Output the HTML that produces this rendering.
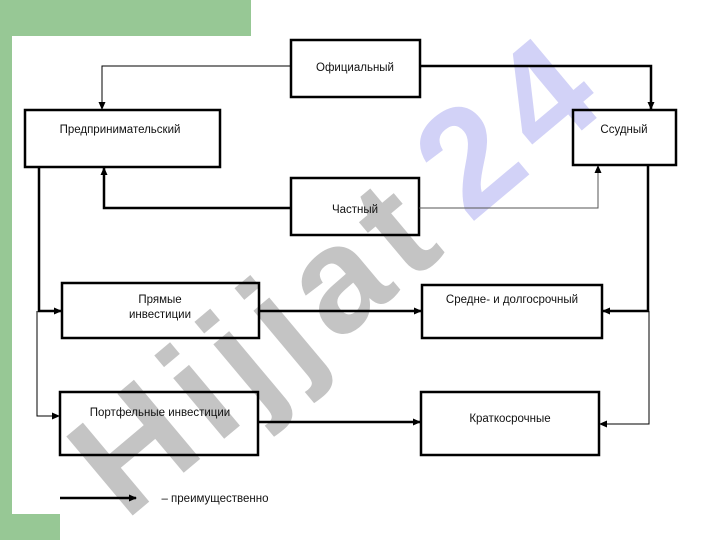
<!DOCTYPE html>
<html><head><meta charset="utf-8"><style>
html,body{margin:0;padding:0;background:#fff;}
svg{display:block;}
text{font-family:"Liberation Sans",sans-serif;}
</style></head><body>
<svg width="720" height="540" viewBox="0 0 720 540" xmlns="http://www.w3.org/2000/svg">
<defs>
<marker id="a" markerWidth="8" markerHeight="8" refX="7" refY="4" orient="auto" markerUnits="userSpaceOnUse"><path d="M0,0.5 L8,4 L0,7.5 z" fill="#000"/></marker>
</defs>
<rect x="0" y="0" width="720" height="540" fill="#fff"/>
<rect x="0" y="0" width="251" height="36" fill="#97c895"/>
<rect x="0" y="0" width="12" height="540" fill="#97c895"/>
<rect x="0" y="514" width="60" height="26" fill="#97c895"/>
<g transform="translate(125,522) rotate(-40)" font-weight="bold" font-size="150">
<text x="0" y="0" textLength="420" lengthAdjust="spacing" fill="#c4c4c4">Hijjat</text>
</g>
<g transform="translate(133,507) rotate(-40)" font-weight="bold" font-size="150">
<text x="440" y="0" textLength="180" lengthAdjust="spacing" fill="#d2d2f7">24</text>
</g>
<g fill="none" stroke="#000">
<rect x="291" y="40" width="129" height="57" stroke-width="2.5"/>
<rect x="25" y="110" width="195" height="57" stroke-width="2.5"/>
<rect x="573" y="110" width="103" height="55" stroke-width="2.5"/>
<rect x="291" y="178" width="128" height="57" stroke-width="2.5"/>
<rect x="62" y="283" width="197" height="55" stroke-width="2.5"/>
<rect x="422" y="285" width="180" height="53" stroke-width="2.5"/>
<rect x="60" y="392" width="198" height="63" stroke-width="2.5"/>
<rect x="421" y="392" width="178" height="63" stroke-width="2.5"/>
<path d="M291,66 H102 V109" stroke-width="1" marker-end="url(#a)"/>
<path d="M420,66 H651 V109" stroke-width="2.5" marker-end="url(#a)"/>
<path d="M291,208 H104 V168" stroke-width="2.5" marker-end="url(#a)"/>
<path d="M419,208 H598 V166" stroke-width="1" stroke="#555" marker-end="url(#a)"/>
<path d="M39,167 V311 H61" stroke-width="2.5" marker-end="url(#a)"/>
<path d="M37,311 V416 H59" stroke-width="1" marker-end="url(#a)"/>
<path d="M648,165 V311 H603" stroke-width="2.5" marker-end="url(#a)"/>
<path d="M649,311 V424 H600" stroke-width="1" marker-end="url(#a)"/>
<path d="M259,311 H421" stroke-width="2.5" marker-end="url(#a)"/>
<path d="M258,422 H420" stroke-width="2.5" marker-end="url(#a)"/>
<path d="M60,498 H136" stroke-width="2.5" marker-end="url(#a)"/>
</g>
<g font-size="11.5" fill="#111" text-anchor="middle">
<text x="355" y="71">Официальный</text>
<text x="120" y="133">Предпринимательский</text>
<text x="624" y="133">Ссудный</text>
<text x="355" y="213">Частный</text>
<text x="160" y="303">Прямые</text>
<text x="160" y="318">инвестиции</text>
<text x="512" y="303">Средне- и долгосрочный</text>
<text x="160" y="416">Портфельные инвестиции</text>
<text x="510" y="422">Краткосрочные</text>
<text x="215" y="502">– преимущественно</text>
</g>
</svg>
</body></html>
